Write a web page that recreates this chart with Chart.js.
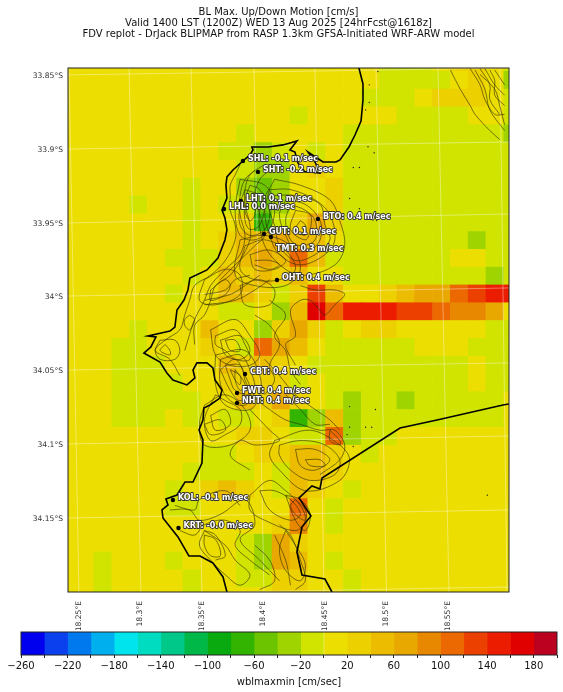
<!DOCTYPE html>
<html>
<head>
<meta charset="utf-8">
<title>BL Max. Up/Down Motion</title>
<script src="https://cdn.jsdelivr.net/npm/chart.js@4/dist/chart.umd.min.js"></script>
<style>
    html, body { margin: 0; padding: 0; background: #fff; }
    canvas { position: absolute; left: 0; display: block; }
    #mapChart { top: 0; }
    #barChart { top: 630px; }
</style>
</head>
<body>
<canvas id="mapChart" width="563" height="630"></canvas>
<canvas id="barChart" width="563" height="62"></canvas>
<script>
const titleLines = [
    'BL Max. Up/Down Motion [cm/s]',
    'Valid 1400 LST (1200Z) WED 13 Aug 2025 [24hrFcst@1618z]',
    'FDV replot - DrJack BLIPMAP from RASP 1.3km GFSA-Initiated WRF-ARW model'
];

const lonTicks = [18.25, 18.3, 18.35, 18.4, 18.45, 18.5, 18.55];
const lonTickLabels = ['18.25°E', '18.3°E', '18.35°E', '18.4°E', '18.45°E', '18.5°E', '18.55°E'];
const latTicks = [-33.85, -33.9, -33.95, -34, -34.05, -34.1, -34.15];
const latTickLabels = ['33.85°S', '33.9°S', '33.95°S', '34°S', '34.05°S', '34.1°S', '34.15°S'];

// colour bar
const barLevels = [-260, -240, -220, -200, -180, -160, -140, -120, -100, -80, -60, -40, -20, 0, 20, 40, 60, 80, 100, 120, 140, 160, 180, 200];
const barColors = ['#0000ee', '#0a40ee', '#0078ee', '#00b0ee', '#00e4ee', '#00dcc0', '#00c888', '#00b848', '#08aa10', '#32b400', '#6cc400', '#a0d400', '#d0e400', '#ecde00', '#ecd000', '#ecbc00', '#e8a800', '#e88800', '#ec6800', '#ec4000', '#ec1c00', '#e00000', '#bc0020'];

// model grid, one row per latitude, north to south (cm/s)
const gridLonStart = 18.2332, gridLonStep = 0.014488;
const gridLatStart = -33.8348, gridLatStep = 0.01206;
const cellValues = [
    [10,10,10,10,10,10,10,10,10,10,10,10,10,10,10,10,10,10,-10,-10,-10,10,30,30,10,-10],
    [10,10,10,10,10,10,10,10,10,10,10,10,10,10,10,10,10,10,-10,-10,-10,-10,10,30,10,-30],
    [10,10,10,10,10,10,10,10,10,10,10,10,10,10,10,10,10,-10,-10,-10,10,30,30,30,10,-10],
    [10,10,10,10,10,10,10,10,10,10,10,10,10,-10,10,10,10,10,10,-10,-10,-10,-10,10,10,-10],
    [10,10,10,10,10,10,10,10,10,10,-10,10,10,10,10,10,-10,-10,-10,-10,-10,-10,-10,-10,-10,-30],
    [10,10,10,10,10,10,10,10,10,-10,-10,-30,-10,10,-10,10,-10,-10,-10,-10,-10,-10,-10,-10,-10,-10],
    [10,10,10,10,10,10,10,10,10,10,-10,-30,-30,10,30,10,-10,-10,-10,-10,-10,-10,-10,-10,-10,-10],
    [10,10,10,10,10,10,10,-10,10,10,-30,-50,-30,10,10,30,-10,-10,-10,-10,-10,-10,-10,-10,-10,-10],
    [10,10,10,10,-10,10,10,-10,10,-10,-10,-50,-30,10,10,30,-10,-10,-10,-10,-10,-10,-10,-10,-10,-10],
    [10,10,10,10,10,10,10,-10,10,10,30,-70,-10,30,70,30,-10,-10,-10,-10,-10,-10,-10,-10,-10,-10],
    [10,10,10,10,10,10,10,-10,10,30,50,50,70,50,50,10,-10,-10,-10,-10,-10,-10,-10,-30,-10,-10],
    [10,10,10,10,10,10,-10,-10,-10,30,50,70,50,110,50,-10,-10,-10,-10,-10,-10,-10,10,10,-10,-10],
    [10,10,10,10,10,10,10,-10,10,50,30,50,30,50,10,10,-10,-10,-10,-10,-10,-10,-10,-10,-30,-10],
    [10,10,10,10,10,10,-10,10,10,50,50,30,-10,30,130,50,10,10,30,50,70,70,110,130,150,150],
    [10,10,10,10,10,10,10,10,10,-10,-10,10,-30,50,170,110,150,150,150,130,130,110,90,90,70,10],
    [10,10,10,10,-10,10,10,10,50,10,10,-30,30,70,30,-10,10,30,30,10,10,10,10,10,-10,-10],
    [10,10,10,-10,-10,10,10,10,30,10,-10,110,70,50,10,-10,-10,-10,-10,-10,10,10,10,-10,-10,-10],
    [10,10,10,-10,-10,-10,10,10,10,50,30,50,30,10,-10,-10,-10,-10,-10,-10,-10,-10,-10,10,-10,-10],
    [10,10,10,-10,-10,-10,-10,10,10,30,30,30,30,-10,10,-10,-10,-10,-10,-10,-10,-10,-10,10,-10,-10],
    [10,10,10,-10,-10,-10,-10,-10,10,10,50,30,70,30,10,-10,-30,-10,-10,-30,-10,-10,-10,-10,-10,10],
    [10,10,10,-10,-10,-10,10,-10,10,-10,-10,10,30,-70,-30,50,-30,-10,-10,-10,-10,-10,-10,-10,-10,10],
    [10,10,10,10,10,10,10,10,10,10,30,30,10,-10,-10,110,-30,-10,-10,10,10,10,10,10,10,10],
    [10,10,10,10,10,10,10,10,-10,-10,10,30,30,50,50,30,10,-10,10,10,10,10,10,10,10,10],
    [10,10,10,10,10,10,10,-10,-10,-10,-10,10,-10,50,50,30,10,10,10,10,10,10,10,10,10,10],
    [10,10,10,10,10,10,-10,10,30,50,30,10,-10,50,30,10,-10,10,10,10,10,10,10,10,10,10],
    [10,10,10,10,10,10,-10,-10,10,10,10,10,10,110,10,-10,10,10,10,10,10,10,10,10,10,10],
    [10,10,10,10,10,10,10,10,10,10,10,10,30,90,10,-10,10,10,10,10,10,10,10,10,10,10],
    [10,10,10,10,10,10,10,10,10,10,-10,-30,70,30,10,10,10,10,10,10,10,10,10,10,10,10],
    [10,10,-10,10,10,10,-10,10,10,10,-10,-30,70,50,10,-10,10,10,10,10,10,10,10,10,10,10],
    [10,10,-10,10,10,10,10,-10,10,10,-10,-10,30,30,10,10,-10,10,10,10,10,10,10,10,10,10],
    [10,10,-10,10,10,10,10,-10,10,10,10,10,30,30,10,10,-10,10,10,10,10,10,10,10,10,10]
];

// graticule, ends of each line on the map frame
const meridianTop = [18.2419, 18.2907, 18.3411, 18.3923, 18.4419, 18.4915, 18.5419, 18.5923];
const meridianBottom = [18.25, 18.3004, 18.35, 18.4004, 18.4492, 18.5, 18.5508, 18.598];
const parallelLeft = [-33.8493, -33.8995, -33.9496, -33.9991, -34.0492, -34.0993, -34.1495, -34.2016];
const parallelRight = [-33.8446, -33.8947, -33.9435, -33.9936, -34.0444, -34.0939, -34.144, -34.1962];

const coastWest = [
    [18.4776,-33.8446],[18.4809,-33.8554],[18.4809,-33.8663],[18.4793,-33.8805],[18.4744,-33.89],[18.4695,-33.8981],
    [18.4622,-33.9069],[18.4589,-33.9083],[18.4484,-33.9083],[18.4435,-33.9056],[18.4362,-33.9015],[18.4419,-33.9083],
    [18.4459,-33.9157],[18.4378,-33.915],[18.4337,-33.915],[18.428,-33.9089],[18.4256,-33.9015],[18.4215,-33.9001],
    [18.4272,-33.894],[18.4159,-33.8967],[18.4037,-33.8981],[18.3906,-33.8981],[18.3915,-33.9001],[18.389,-33.9035],
    [18.3833,-33.9076],[18.3752,-33.9137],[18.3703,-33.9184],[18.3695,-33.9238],[18.3703,-33.9327],[18.3663,-33.9408],
    [18.3687,-33.9462],[18.3703,-33.9543],[18.3687,-33.9611],[18.363,-33.9733],[18.3541,-33.9814],[18.3402,-33.9869],
    [18.3386,-33.995],[18.3354,-34.0018],[18.3297,-34.0085],[18.328,-34.0201],[18.324,-34.0228],[18.3061,-34.0262],
    [18.3126,-34.0268],[18.3085,-34.0336],[18.3028,-34.0377],[18.3159,-34.0438],[18.3215,-34.0512],[18.3264,-34.056],
    [18.3378,-34.0593],[18.3443,-34.0546],[18.3427,-34.0492],[18.3459,-34.0444],[18.3541,-34.0444],[18.3589,-34.0478],
    [18.3606,-34.056],[18.3663,-34.0627],[18.3646,-34.0682],[18.3565,-34.0729],[18.3516,-34.0749],[18.3508,-34.0831],
    [18.3476,-34.0898],[18.3508,-34.0966],[18.35,-34.1122],[18.3427,-34.1251],[18.3362,-34.1251],[18.3297,-34.1339],
    [18.3207,-34.1366],[18.3224,-34.1406],[18.3175,-34.144],[18.3183,-34.1495],[18.3305,-34.1623],[18.3394,-34.1752],
    [18.3484,-34.1752],[18.3589,-34.1799],[18.3671,-34.1894],[18.3703,-34.1996]
];
const coastEast = [
    [18.4557,-34.1996],[18.45,-34.1908],[18.4313,-34.1881],[18.4272,-34.1725],[18.4313,-34.1556],[18.4386,-34.1481],
    [18.4289,-34.1359],[18.4394,-34.1278],[18.4459,-34.1298],[18.4476,-34.1224],[18.511,-34.0885],[18.5411,-34.0831],
    [18.5947,-34.0729],[18.5996,-34.0722]
];

const terrainLines = [
    [[18.381,-33.910],[18.377,-33.917],[18.373,-33.924],[18.373,-33.931],[18.373,-33.941],[18.377,-33.951],[18.377,-33.961],[18.369,-33.975],[18.357,-33.985],[18.344,-33.992],[18.340,-34.002],[18.336,-34.012],[18.332,-34.022],[18.320,-34.029],[18.312,-34.036],[18.324,-34.042],[18.332,-34.053]],
    [[18.393,-33.914],[18.385,-33.920],[18.381,-33.931],[18.381,-33.944],[18.385,-33.958],[18.381,-33.971],[18.369,-33.981],[18.357,-33.992],[18.352,-34.002],[18.344,-34.015],[18.340,-34.025],[18.336,-34.036]],
    [[18.389,-33.924],[18.397,-33.927],[18.401,-33.937],[18.397,-33.951],[18.389,-33.954],[18.385,-33.948],[18.385,-33.934],[18.389,-33.924]],
    [[18.389,-33.931],[18.393,-33.934],[18.393,-33.944],[18.389,-33.948],[18.385,-33.941],[18.389,-33.931]],
    [[18.405,-33.927],[18.422,-33.927],[18.442,-33.934],[18.454,-33.944],[18.458,-33.961],[18.450,-33.971],[18.430,-33.978],[18.413,-33.971],[18.405,-33.958],[18.401,-33.941],[18.405,-33.927]],
    [[18.418,-33.934],[18.434,-33.937],[18.446,-33.948],[18.446,-33.961],[18.438,-33.968],[18.426,-33.968],[18.418,-33.958],[18.413,-33.944],[18.418,-33.934]],
    [[18.426,-33.941],[18.438,-33.944],[18.438,-33.954],[18.434,-33.961],[18.422,-33.954],[18.426,-33.941]],
    [[18.385,-33.965],[18.401,-33.961],[18.418,-33.968],[18.426,-33.981],[18.413,-33.988],[18.393,-33.988],[18.381,-33.981],[18.385,-33.965]],
    [[18.389,-33.971],[18.405,-33.968],[18.418,-33.975],[18.409,-33.981],[18.393,-33.981],[18.389,-33.971]],
    [[18.352,-33.988],[18.369,-33.981],[18.381,-33.985],[18.381,-33.998],[18.361,-34.005],[18.348,-34.002],[18.352,-33.988]],
    [[18.357,-33.995],[18.369,-33.988],[18.373,-33.992],[18.369,-33.998],[18.357,-34.002],[18.357,-33.995]],
    [[18.381,-33.992],[18.397,-33.988],[18.409,-33.995],[18.405,-34.005],[18.385,-34.005],[18.381,-33.992]],
    [[18.430,-33.992],[18.442,-33.995],[18.458,-33.995],[18.466,-33.998],[18.458,-34.005],[18.450,-34.012],[18.446,-34.009],[18.438,-34.002],[18.430,-34.002],[18.422,-34.009],[18.426,-34.026],[18.418,-34.032],[18.426,-34.046]],
    [[18.340,-34.012],[18.344,-34.015],[18.340,-34.022],[18.336,-34.019],[18.336,-34.015],[18.340,-34.012]],
    [[18.316,-34.029],[18.328,-34.029],[18.332,-34.036],[18.328,-34.042],[18.316,-34.042],[18.312,-34.036],[18.316,-34.029]],
    [[18.320,-34.032],[18.324,-34.036],[18.324,-34.039],[18.316,-34.036],[18.320,-34.032]],
    [[18.361,-34.026],[18.377,-34.022],[18.385,-34.032],[18.389,-34.042],[18.377,-34.042],[18.369,-34.036],[18.361,-34.032],[18.361,-34.026]],
    [[18.369,-34.029],[18.377,-34.029],[18.381,-34.036],[18.373,-34.036],[18.369,-34.029]],
    [[18.365,-34.042],[18.381,-34.039],[18.389,-34.049],[18.393,-34.063],[18.385,-34.073],[18.373,-34.070],[18.365,-34.059],[18.365,-34.042]],
    [[18.369,-34.046],[18.381,-34.046],[18.385,-34.056],[18.389,-34.066],[18.377,-34.063],[18.373,-34.056],[18.369,-34.046]],
    [[18.373,-34.049],[18.381,-34.053],[18.381,-34.059],[18.377,-34.056],[18.373,-34.049]],
    [[18.361,-34.066],[18.369,-34.070],[18.381,-34.076],[18.381,-34.086],[18.369,-34.093],[18.357,-34.097],[18.352,-34.083],[18.361,-34.066]],
    [[18.357,-34.080],[18.369,-34.076],[18.373,-34.086],[18.361,-34.090],[18.357,-34.080]],
    [[18.389,-34.066],[18.405,-34.076],[18.418,-34.083],[18.430,-34.086],[18.446,-34.090],[18.458,-34.090],[18.466,-34.100],[18.462,-34.110],[18.446,-34.120]],
    [[18.413,-34.100],[18.430,-34.097],[18.450,-34.100],[18.462,-34.110],[18.458,-34.120],[18.438,-34.124],[18.422,-34.117],[18.413,-34.107],[18.413,-34.100]],
    [[18.426,-34.103],[18.442,-34.103],[18.454,-34.110],[18.442,-34.117],[18.430,-34.114],[18.426,-34.103]],
    [[18.454,-34.090],[18.462,-34.097],[18.462,-34.100],[18.454,-34.097],[18.454,-34.090]],
    [[18.389,-34.076],[18.405,-34.090],[18.413,-34.097],[18.393,-34.100],[18.381,-34.097],[18.373,-34.107],[18.389,-34.117]],
    [[18.418,-34.066],[18.430,-34.076],[18.442,-34.086],[18.454,-34.086]],
    [[18.401,-34.042],[18.413,-34.053],[18.426,-34.066],[18.442,-34.076],[18.454,-34.083],[18.462,-34.090]],
    [[18.389,-34.134],[18.405,-34.124],[18.418,-34.131],[18.430,-34.141],[18.434,-34.151],[18.426,-34.158],[18.401,-34.151],[18.389,-34.144],[18.389,-34.134]],
    [[18.426,-34.137],[18.434,-34.144],[18.434,-34.151],[18.426,-34.147],[18.422,-34.141],[18.426,-34.137]],
    [[18.352,-34.161],[18.361,-34.164],[18.365,-34.175],[18.357,-34.175],[18.352,-34.168],[18.352,-34.161]],
    [[18.352,-34.158],[18.369,-34.168],[18.377,-34.178],[18.389,-34.188],[18.381,-34.195],[18.369,-34.188],[18.357,-34.178],[18.348,-34.168],[18.352,-34.158]],
    [[18.418,-34.158],[18.426,-34.168],[18.434,-34.181],[18.430,-34.192],[18.418,-34.185],[18.413,-34.171],[18.418,-34.158]],
    [[18.324,-34.144],[18.340,-34.144],[18.348,-34.151],[18.365,-34.147],[18.385,-34.137],[18.393,-34.154],[18.381,-34.164],[18.397,-34.178],[18.413,-34.192]],
    [[18.393,-34.168],[18.405,-34.178],[18.409,-34.192],[18.397,-34.198]],
    [[18.552,-33.846],[18.560,-33.859],[18.568,-33.870],[18.572,-33.876],[18.584,-33.887],[18.592,-33.893]],
    [[18.568,-33.845],[18.576,-33.856],[18.580,-33.866],[18.588,-33.876],[18.596,-33.876]],
    [[18.576,-33.845],[18.584,-33.856],[18.584,-33.866],[18.592,-33.876]],
    [[18.584,-33.846],[18.588,-33.853],[18.588,-33.863],[18.596,-33.870]],
    [[18.401,-33.910],[18.389,-33.917],[18.385,-33.927],[18.385,-33.937],[18.389,-33.951],[18.389,-33.961],[18.381,-33.975],[18.373,-33.985],[18.361,-33.992],[18.357,-34.002],[18.352,-34.012],[18.344,-34.019],[18.344,-34.032]],
    [[18.405,-33.914],[18.397,-33.920],[18.393,-33.931],[18.397,-33.944],[18.401,-33.958],[18.393,-33.965],[18.377,-33.978],[18.365,-33.988]],
    [[18.381,-33.920],[18.401,-33.924],[18.409,-33.937],[18.405,-33.954],[18.393,-33.961],[18.381,-33.958],[18.377,-33.941],[18.381,-33.920]],
    [[18.385,-33.927],[18.397,-33.931],[18.405,-33.941],[18.401,-33.954],[18.389,-33.958],[18.381,-33.951],[18.381,-33.937],[18.385,-33.927]],
    [[18.409,-33.920],[18.430,-33.924],[18.454,-33.934],[18.462,-33.948],[18.466,-33.965],[18.458,-33.978],[18.434,-33.985],[18.418,-33.981],[18.401,-33.965],[18.397,-33.941],[18.409,-33.920]],
    [[18.409,-33.931],[18.426,-33.931],[18.446,-33.937],[18.450,-33.951],[18.454,-33.961],[18.442,-33.971],[18.426,-33.975],[18.413,-33.965],[18.409,-33.951],[18.405,-33.941],[18.409,-33.931]],
    [[18.422,-33.937],[18.434,-33.941],[18.442,-33.948],[18.442,-33.961],[18.430,-33.965],[18.422,-33.961],[18.418,-33.948],[18.422,-33.937]],
    [[18.430,-33.948],[18.434,-33.951],[18.434,-33.958],[18.426,-33.954],[18.430,-33.948]],
    [[18.381,-33.961],[18.401,-33.958],[18.422,-33.965],[18.430,-33.981],[18.418,-33.992],[18.393,-33.992],[18.377,-33.985],[18.381,-33.961]],
    [[18.393,-33.975],[18.405,-33.975],[18.413,-33.978],[18.405,-33.981],[18.393,-33.978]],
    [[18.352,-33.998],[18.369,-33.995],[18.377,-33.988],[18.389,-33.985]],
    [[18.352,-34.002],[18.373,-33.998],[18.385,-33.992],[18.397,-33.985]],
    [[18.352,-34.005],[18.377,-34.002],[18.393,-33.995],[18.405,-33.988]],
    [[18.405,-34.002],[18.418,-34.012],[18.409,-34.026],[18.418,-34.036],[18.422,-34.049],[18.430,-34.059]],
    [[18.357,-34.022],[18.377,-34.015],[18.389,-34.026],[18.397,-34.039],[18.389,-34.046],[18.373,-34.046],[18.361,-34.039],[18.357,-34.022]],
    [[18.365,-34.029],[18.381,-34.026],[18.389,-34.036],[18.381,-34.042],[18.369,-34.039],[18.365,-34.029]],
    [[18.393,-34.012],[18.405,-34.019],[18.413,-34.032],[18.405,-34.046],[18.409,-34.056],[18.401,-34.066]],
    [[18.361,-34.039],[18.385,-34.036],[18.397,-34.053],[18.397,-34.066],[18.389,-34.076],[18.369,-34.073],[18.361,-34.059],[18.361,-34.039]],
    [[18.365,-34.049],[18.377,-34.042],[18.385,-34.053],[18.389,-34.063],[18.381,-34.070],[18.373,-34.063],[18.365,-34.049]],
    [[18.377,-34.049],[18.385,-34.059],[18.381,-34.063],[18.377,-34.056],[18.377,-34.049]],
    [[18.352,-34.073],[18.369,-34.066],[18.385,-34.076],[18.389,-34.090],[18.373,-34.100],[18.352,-34.100],[18.348,-34.086],[18.352,-34.073]],
    [[18.352,-34.086],[18.365,-34.083],[18.369,-34.090],[18.357,-34.093],[18.352,-34.086]],
    [[18.409,-34.097],[18.438,-34.090],[18.462,-34.100],[18.470,-34.110],[18.462,-34.124],[18.434,-34.131],[18.413,-34.117],[18.405,-34.107],[18.409,-34.097]],
    [[18.434,-34.110],[18.446,-34.110],[18.450,-34.114],[18.438,-34.114],[18.434,-34.110]],
    [[18.397,-34.131],[18.409,-34.131],[18.422,-34.137],[18.430,-34.147],[18.422,-34.151],[18.405,-34.144],[18.397,-34.131]],
    [[18.418,-34.134],[18.430,-34.137],[18.438,-34.147],[18.434,-34.158],[18.426,-34.151],[18.418,-34.134]],
    [[18.413,-34.154],[18.422,-34.161],[18.430,-34.178],[18.434,-34.192],[18.426,-34.198]],
    [[18.409,-34.161],[18.418,-34.178],[18.422,-34.195]],
    [[18.352,-34.158],[18.361,-34.161],[18.369,-34.175],[18.361,-34.178]],
    [[18.328,-34.141],[18.344,-34.144],[18.348,-34.137],[18.369,-34.131],[18.381,-34.141]],
    [[18.332,-34.158],[18.344,-34.161],[18.352,-34.154],[18.369,-34.151],[18.381,-34.158],[18.377,-34.168],[18.389,-34.178],[18.405,-34.188]],
    [[18.576,-33.849],[18.588,-33.859],[18.592,-33.870],[18.596,-33.883]],
    [[18.580,-33.845],[18.588,-33.856],[18.596,-33.863]],
    [[18.588,-33.846],[18.596,-33.856]],
    [[18.572,-33.846],[18.580,-33.859],[18.584,-33.873],[18.596,-33.887]]
];

const rockLons = [18.493, 18.486, 18.486, 18.483, 18.485, 18.49, 18.473, 18.478, 18.47, 18.478, 18.492, 18.582, 18.483, 18.488, 18.47, 18.468, 18.473, 18.47, 18.491];
const rockLats = [-33.847, -33.856, -33.868, -33.873, -33.898, -33.902, -33.912, -33.912, -33.933, -33.94, -33.948, -34.134, -34.088, -34.088, -34.088, -34.093, -34.101, -34.074, -34.076];

const stationNames = ['SHL', 'SHT', 'LHT', 'LHL', 'BTO', 'GUT', 'TMT', 'OHT', 'CBT', 'FWT', 'NHT', 'KOL', 'KRT'];
const stationLons = [18.3833, 18.3955, 18.3817, 18.3679, 18.4443, 18.4004, 18.4061, 18.411, 18.385, 18.3785, 18.3785, 18.3264, 18.3309];
const stationLats = [-33.9076, -33.915, -33.9347, -33.9401, -33.9469, -33.957, -33.9591, -33.9882, -34.0519, -34.0648, -34.0715, -34.1373, -34.1562];
const stationSpeeds = ['-0.1', '-0.2', '0.1', '0.0', '0.4', '0.1', '0.3', '0.4', '0.4', '0.4', '0.4', '-0.1', '-0.0'];

function colorFor(value) {
    for (let i = 0; i < barColors.length; i++) {
        if (value >= barLevels[i] && value < barLevels[i + 1]) return barColors[i];
    }
    return barColors[barColors.length - 1];
}

const cellData = [];
const cellColors = [];
cellValues.forEach((row, r) => {
    row.forEach((value, c) => {
        const lat = gridLatStart - r * gridLatStep;
        cellData.push({ x: gridLonStart + (c + 0.5) * gridLonStep, y: [lat - gridLatStep, lat] });
        cellColors.push(colorFor(value));
    });
});

function pairsToPoints(pairs) {
    return pairs.map(p => ({ x: p[0], y: p[1] }));
}

function lineSet(points, color, width, order, tension) {
    return { type: 'line', data: points, borderColor: color, borderWidth: width, pointRadius: 0, fill: false, tension: tension || 0, order: order };
}

const mapDatasets = [{
    type: 'bar',
    data: cellData,
    backgroundColor: cellColors,
    barThickness: 17.82,
    grouped: false,
    order: 50
}];
meridianTop.forEach((lon, i) => {
    mapDatasets.push(lineSet([{ x: lon, y: -33.8446 }, { x: meridianBottom[i], y: -34.1996 }], 'rgba(255,255,255,0.38)', 1, 40));
});
parallelLeft.forEach((lat, i) => {
    mapDatasets.push(lineSet([{ x: 18.2411, y: lat }, { x: 18.5996, y: parallelRight[i] }], 'rgba(255,255,255,0.38)', 1, 40));
});
terrainLines.forEach(line => {
    mapDatasets.push(lineSet(pairsToPoints(line), 'rgba(55,50,5,0.8)', 0.8, 30, 0.35));
});
mapDatasets.push(lineSet(pairsToPoints(coastWest), '#000', 1.6, 20));
mapDatasets.push(lineSet(pairsToPoints(coastEast), '#000', 1.6, 20));
mapDatasets.push({
    type: 'line', showLine: false, order: 25,
    data: rockLons.map((lon, i) => ({ x: lon, y: rockLats[i] })),
    pointRadius: 0.7, pointBackgroundColor: '#222', pointBorderWidth: 0
});
mapDatasets.push({
    type: 'line', showLine: false, order: 10,
    data: stationLons.map((lon, i) => ({ x: lon, y: stationLats[i] })),
    pointRadius: 2.2, pointBackgroundColor: '#000', pointBorderWidth: 0
});

const mapOverlay = {
    id: 'mapOverlay',
    afterDraw(chart) {
        const { ctx, chartArea, scales } = chart;
        ctx.save();
        ctx.strokeStyle = '#222';
        ctx.lineWidth = 1;
        ctx.strokeRect(chartArea.left, chartArea.top, chartArea.right - chartArea.left, chartArea.bottom - chartArea.top);

        // station labels, white with a dark halo
        ctx.font = 'bold 8px "DejaVu Sans"';
        ctx.textBaseline = 'middle';
        ctx.textAlign = 'left';
        ctx.lineJoin = 'round';
        stationNames.forEach((name, i) => {
            const text = name + ': ' + stationSpeeds[i] + ' m/sec';
            const x = scales.x.getPixelForValue(stationLons[i]) + 5;
            let y = scales.y.getPixelForValue(stationLats[i]) - 1.8;
            if (name === 'TMT') y += 14;
            if (name === 'LHT' || name === 'LHL') y -= 0.3;
            ctx.lineWidth = 1.8;
            ctx.strokeStyle = '#333';
            ctx.strokeText(text, x, y);
            ctx.fillStyle = '#fff';
            ctx.fillText(text, x, y);
        });

        ctx.fillStyle = '#111';
        ctx.font = '10px "DejaVu Sans"';
        ctx.textAlign = 'center';
        titleLines.forEach((line, i) => ctx.fillText(line, 278.5, 12.5 + i * 11.2));
        ctx.restore();
    }
};

new Chart(document.getElementById('mapChart'), {
    data: { datasets: mapDatasets },
    plugins: [mapOverlay],
    options: {
        responsive: false,
        animation: false,
        events: [],
        layout: { padding: { top: 68, right: 54, left: 0, bottom: 0 } },
        plugins: { legend: { display: false }, tooltip: { enabled: false } },
        scales: {
            x: {
                type: 'linear',
                min: 18.2411,
                max: 18.5996,
                offset: false,
                grid: { display: false, drawTicks: false },
                border: { display: false },
                afterFit: scale => { scale.height = 38; },
                afterBuildTicks: scale => { scale.ticks = lonTicks.map(value => ({ value })); },
                ticks: {
                    autoSkip: false,
                    minRotation: 90,
                    maxRotation: 90,
                    padding: 9,
                    color: '#333',
                    font: { family: '"DejaVu Sans"', size: 7.6 },
                    callback: value => lonTickLabels[lonTicks.indexOf(value)]
                }
            },
            y: {
                type: 'linear',
                min: -34.1996,
                max: -33.8446,
                grid: { display: false, drawTicks: false },
                border: { display: false },
                afterFit: scale => { scale.width = 68; },
                afterBuildTicks: scale => { scale.ticks = latTicks.map(value => ({ value })); },
                ticks: {
                    autoSkip: false,
                    padding: 5,
                    color: '#333',
                    font: { family: '"DejaVu Sans"', size: 7.6 },
                    callback: value => latTickLabels[latTicks.indexOf(value)]
                }
            }
        }
    }
});

const barFrame = {
    id: 'barFrame',
    afterDraw(chart) {
        const { ctx, chartArea } = chart;
        ctx.save();
        ctx.strokeStyle = '#222';
        ctx.lineWidth = 1;
        ctx.strokeRect(chartArea.left, chartArea.top, chartArea.right - chartArea.left, chartArea.bottom - chartArea.top);
        ctx.restore();
    }
};

new Chart(document.getElementById('barChart'), {
    type: 'bar',
    data: {
        labels: ['wblmaxmin'],
        datasets: barColors.map((color, i) => ({
            data: [[barLevels[i], barLevels[i + 1]]],
            backgroundColor: color,
            grouped: false,
            barPercentage: 1,
            categoryPercentage: 1
        }))
    },
    plugins: [barFrame],
    options: {
        indexAxis: 'y',
        responsive: false,
        animation: false,
        events: [],
        layout: { padding: { top: 2, left: 21, right: 6, bottom: 0 } },
        plugins: { legend: { display: false }, tooltip: { enabled: false } },
        scales: {
            y: { display: false, offset: true },
            x: {
                type: 'linear',
                min: -260,
                max: 200,
                grid: { drawOnChartArea: false, drawTicks: true, tickLength: 3, color: '#222' },
                border: { display: false },
                afterFit: scale => { scale.height = 37; },
                afterBuildTicks: scale => { scale.ticks = barLevels.map(value => ({ value })); },
                ticks: {
                    autoSkip: false,
                    maxRotation: 0,
                    padding: 2,
                    color: '#111',
                    font: { family: '"DejaVu Sans"', size: 10 },
                    callback: value => {
                        if ((value + 260) % 40 !== 0 || value === 200) return '';
                        return String(value).replace('-', '\u2212');
                    }
                },
                title: {
                    display: true,
                    text: 'wblmaxmin [cm/sec]',
                    color: '#111',
                    padding: { top: 1, bottom: 4 },
                    font: { family: '"DejaVu Sans"', size: 10 }
                }
            }
        }
    }
});
</script>
</body>
</html>
